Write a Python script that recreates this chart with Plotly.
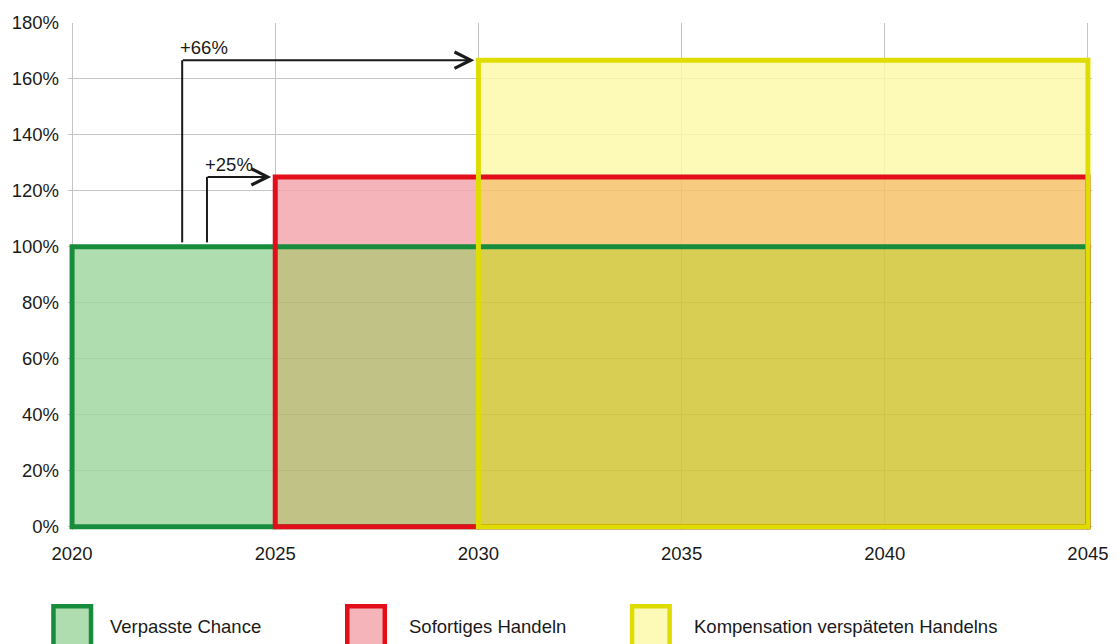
import plotly.graph_objects as go

# Szenarien: Beginn, Ende und Niveau (in % des Ausgangswerts)
scenarios = ["Verpasste Chance", "Sofortiges Handeln", "Kompensation verspäteten Handelns"]
start_year = [2020, 2025, 2030]
end_year = 2045
level = [100, 125, 166.7]

# Pfeile mit Beschriftung
arrow_labels = ["+66%", "+25%"]
arrow_x = [2022.71, 2023.32]
arrow_base = [101.6, 101.6]
arrow_top = [166.7, 125]
arrow_tip = [2029.9, 2024.9]

y_ticks = list(range(0, 181, 20))
y_ticktext = [f"{v}%" for v in y_ticks]
x_ticks = [2020, 2025, 2030, 2035, 2040, 2045]

line_colors = ["#178c3c", "#e20f1a", "#dedc00"]
swatch_fill = ["#b0ddaf", "#f5b4b9", "#fdf9b7"]
# sichtbare Farbe je Überlappung: (unterstes Szenario, oberstes aktives Szenario)
band_colors = {
    (0, 0): "#b0ddaf",
    (0, 1): "#c1c286",
    (1, 1): "#f5b4b9",
    (0, 2): "#d8ce54",
    (1, 2): "#f8cc80",
    (2, 2): "#fdf9b7",
}

W, H = 1120, 644
L_M, R_M, T_M, B_M = 67.9, 23.9, 22.7, 113.9
PW, PH = W - L_M - R_M, H - T_M - B_M
ALPHA = 0.85
FONT = "Liberation Sans, Arial, sans-serif"
FS = 18.5
TXT = "#1a1a1a"


def see_through(hex_color):
    rgb = [int(hex_color[i:i + 2], 16) for i in (1, 3, 5)]
    c = [max(0, min(255, round((v - (1 - ALPHA) * 255) / ALPHA))) for v in rgb]
    return f"rgba({c[0]},{c[1]},{c[2]},{ALPHA})"


def px_x(px):
    return (px - L_M) / PW


def px_y(py):
    return (H - B_M - py) / PH


fig = go.Figure()

# Flächen als gestapelte Bänder
bounds = start_year + [end_year]
bx, bw, bbase, bh, bcol = [], [], [], [], []
for k in range(len(start_year)):
    x0, x1 = bounds[k], bounds[k + 1]
    lo = 0
    for j in range(k + 1):
        bx.append((x0 + x1) / 2)
        bw.append(x1 - x0)
        bbase.append(lo)
        bh.append(level[j] - lo)
        bcol.append(see_through(band_colors[(j, k)]))
        lo = level[j]

fig.add_trace(
    go.Bar(
        x=bx,
        y=bh,
        base=bbase,
        width=bw,
        marker=dict(color=bcol, line_width=0),
        showlegend=False,
        hoverinfo="skip",
    )
)

# Umrandungen
for i, name in enumerate(scenarios):
    s, lv = start_year[i], level[i]
    m = (s + end_year) / 2
    fig.add_trace(
        go.Scatter(
            x=[m, s, s, end_year, end_year, m],
            y=[0, 0, lv, lv, 0, 0],
            mode="lines",
            line=dict(color=line_colors[i], width=5),
            name=name,
            showlegend=False,
            hoverinfo="skip",
        )
    )

# Pfeile
for i, lab in enumerate(arrow_labels):
    fig.add_trace(
        go.Scatter(
            x=[arrow_x[i], arrow_x[i]],
            y=[arrow_base[i], arrow_top[i]],
            mode="lines",
            line=dict(color=TXT, width=2),
            showlegend=False,
            hoverinfo="skip",
        )
    )
    fig.add_annotation(
        x=arrow_tip[i], y=arrow_top[i], ax=arrow_x[i] - 0.02, ay=arrow_top[i],
        xref="x", yref="y", axref="x", ayref="y",
        text="", showarrow=True, arrowhead=5, arrowsize=1.6, arrowwidth=2,
        arrowcolor=TXT, standoff=0, startstandoff=0,
    )
    fig.add_annotation(
        x=arrow_x[i], y=arrow_top[i], xref="x", yref="y",
        text=lab, showarrow=False, xanchor="left", yanchor="bottom",
        xshift=-4, yshift=0, font=dict(size=FS, color=TXT, family=FONT),
    )

# Legende unten
sw_x = [51, 346, 632]
txt_x = [108, 408, 694]
for i, name in enumerate(scenarios):
    fig.add_shape(
        type="rect", xref="paper", yref="paper",
        x0=px_x(sw_x[i] + 2.3), x1=px_x(sw_x[i] + 40), y0=px_y(606.3), y1=px_y(650),
        line=dict(color=line_colors[i], width=4.5), fillcolor=swatch_fill[i],
    )
    fig.add_annotation(
        x=px_x(txt_x[i]), y=px_y(627), xref="paper", yref="paper",
        text=name, showarrow=False, xanchor="left", yanchor="middle",
        font=dict(size=FS, color=TXT, family=FONT),
    )

fig.update_layout(
    width=W,
    height=H,
    margin=dict(l=L_M, r=R_M, t=T_M, b=B_M),
    plot_bgcolor="white",
    paper_bgcolor="white",
    font=dict(family=FONT, size=FS, color=TXT),
    barmode="overlay",
    bargap=0,
    showlegend=False,
)
fig.update_xaxes(
    range=[2019.9, 2045.1],
    tickvals=x_ticks,
    showgrid=True,
    gridcolor="#c4c4c4",
    gridwidth=1,
    zeroline=False,
    showline=False,
    ticks="",
    ticklabelstandoff=10,
)
fig.update_yaxes(
    range=[-1.2, 180],
    tickvals=y_ticks,
    ticktext=y_ticktext,
    showgrid=True,
    gridcolor="#c4c4c4",
    gridwidth=1,
    zeroline=False,
    showline=False,
    ticks="",
    ticklabelstandoff=8,
)

fig.write_html(
    "out.html",
    config={"displayModeBar": False},
    post_script="document.body.style.margin='0px';document.body.style.overflow='hidden';",
)
